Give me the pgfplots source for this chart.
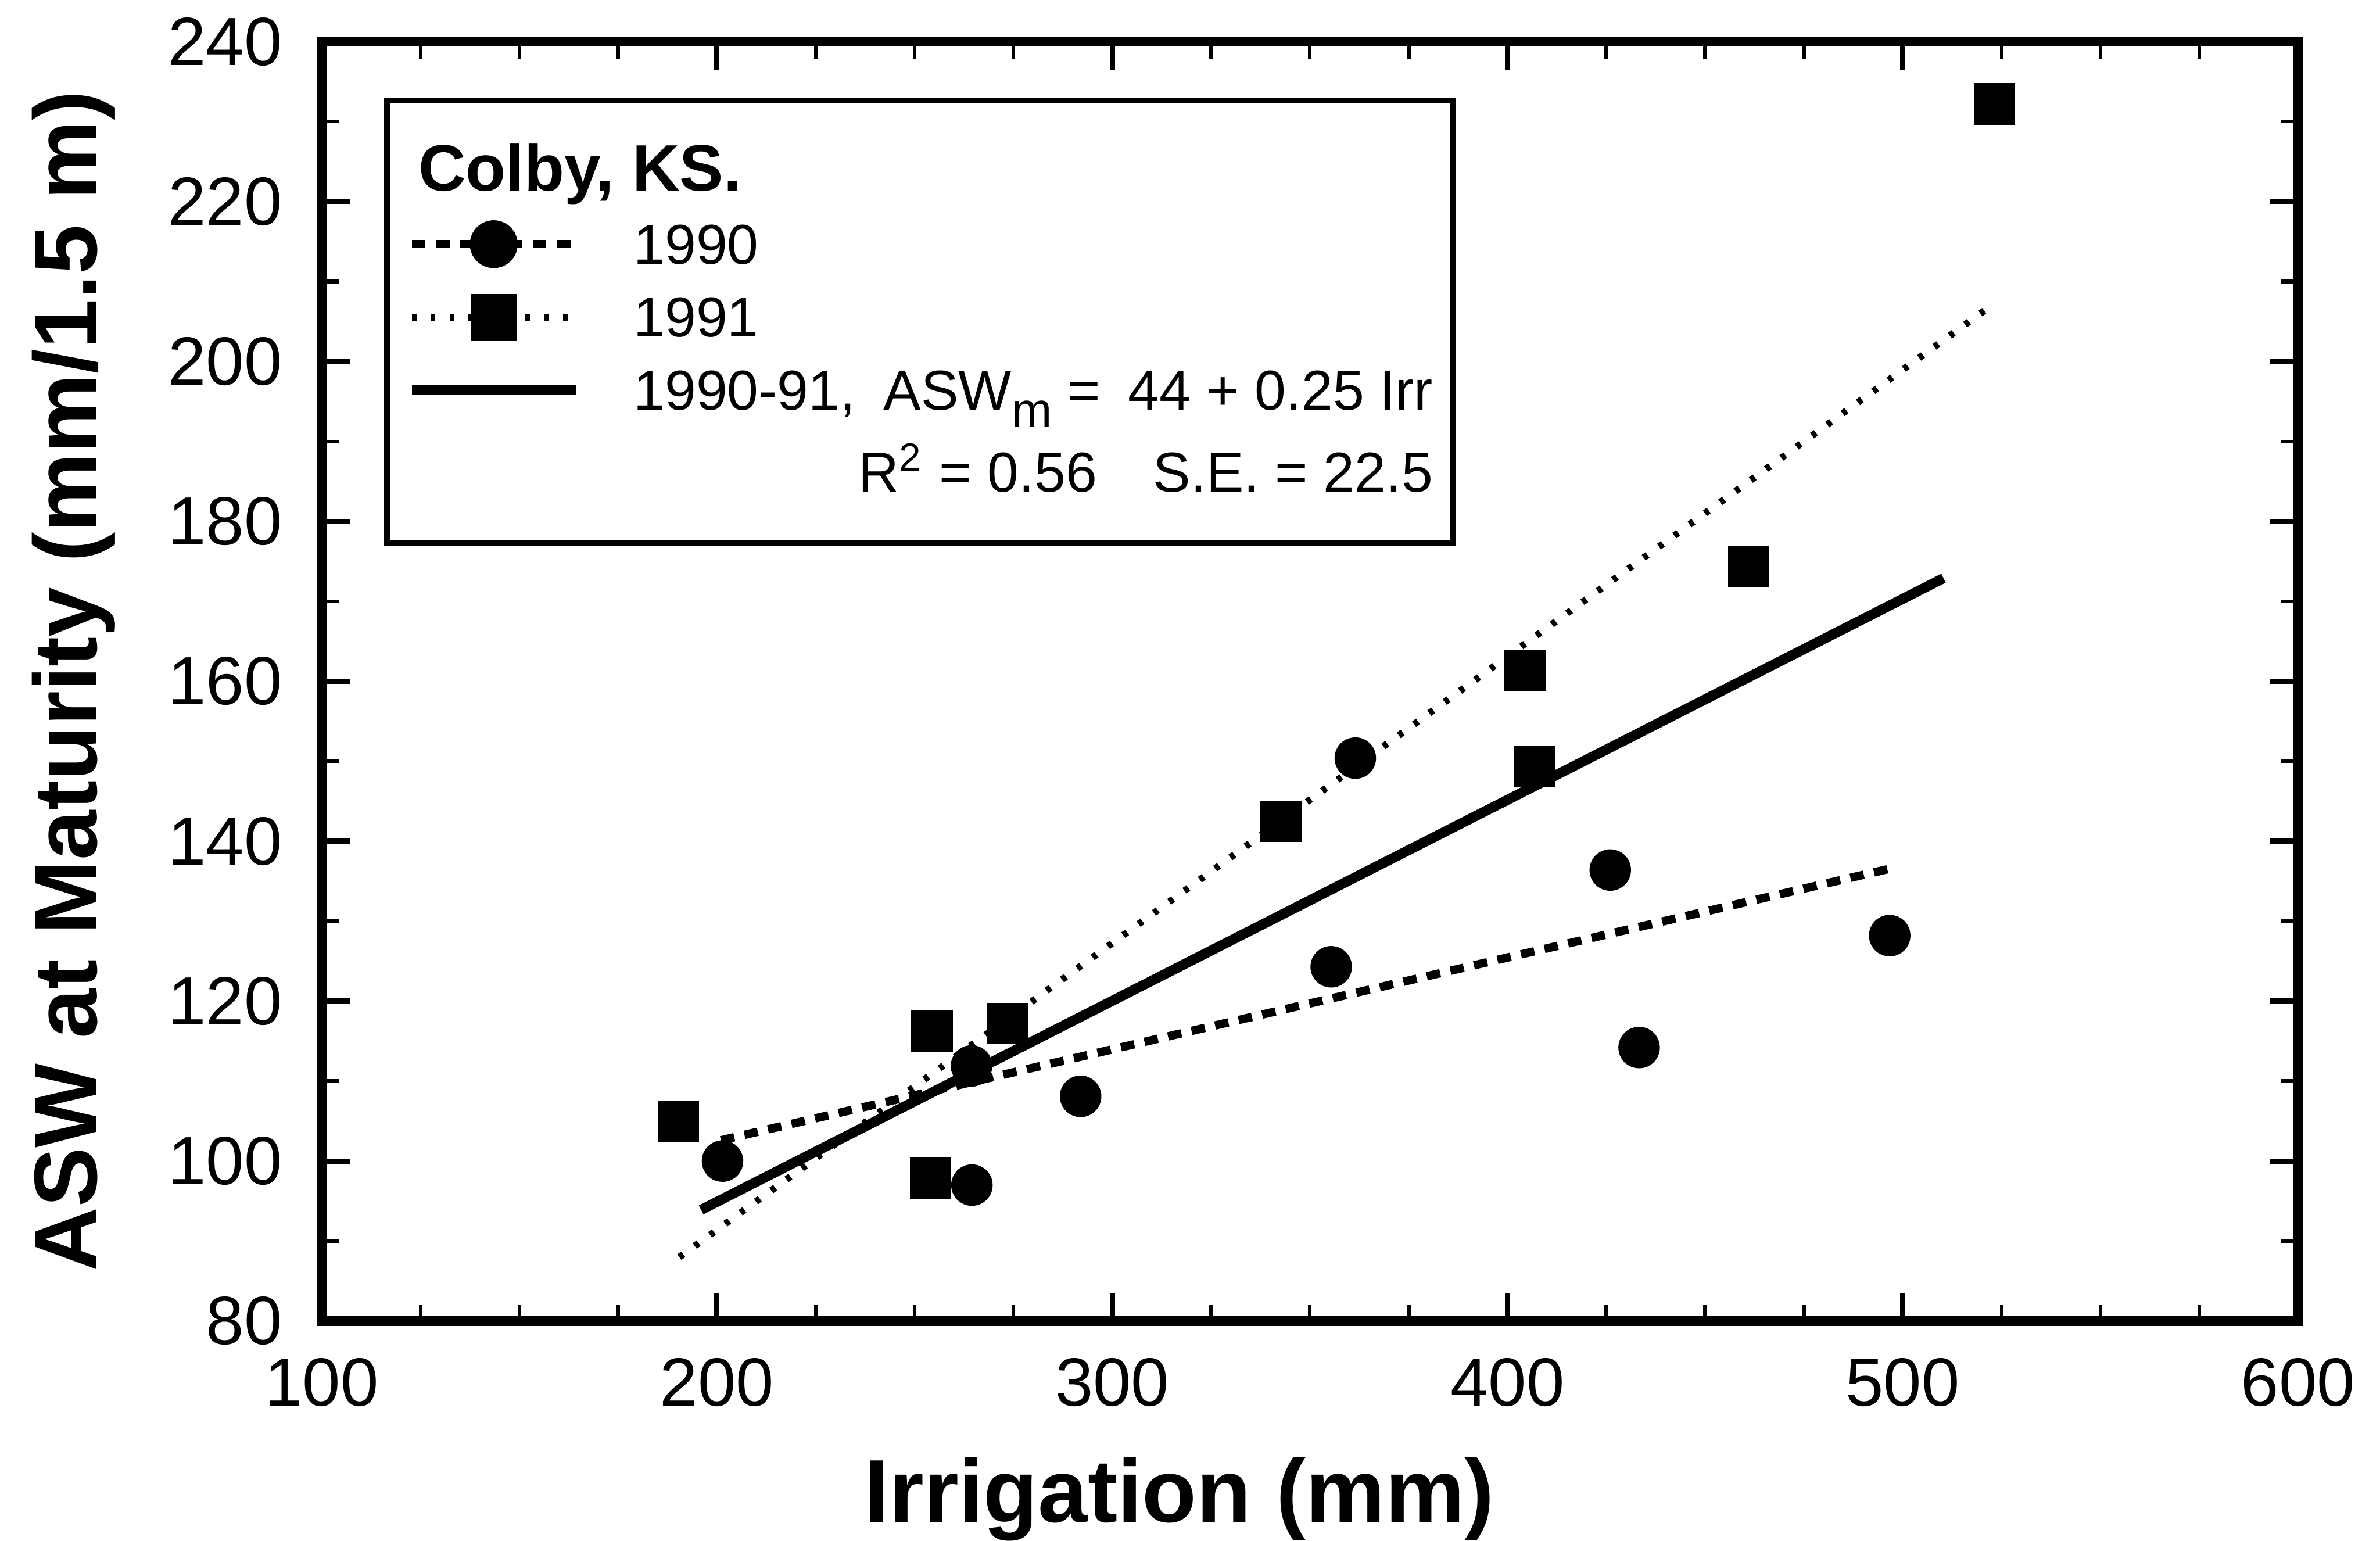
\documentclass[border=0pt]{standalone}
\usepackage{fontspec}
\setmainfont{Liberation Sans}
\usepackage{pgfplots}
\usepackage{pgfplotstable}
\pgfplotsset{compat=1.18}

% 1990 observations (circles)
\pgfplotstableread{
x y
201.4 100.0
264.4 111.9
264.5 97.0
292.0 108.1
355.4 124.3
361.5 150.4
426.0 136.4
433.3 114.2
496.7 128.2
}\obsA

% 1991 observations (squares)
\pgfplotstableread{
x y
190.2 104.9
254.0 97.9
254.4 116.3
273.6 117.2
342.7 142.5
404.5 161.4
406.8 149.3
461.0 174.3
523.2 232.2
}\obsB

% fitted lines (end points)
\pgfplotstableread{
x y
201.0 102.6
497.0 136.6
}\fitA
\pgfplotstableread{
x y
190.5 88.0
523.0 207.2
}\fitB
\pgfplotstableread{
x y
196.0 93.9
510.3 172.9
}\fitC

\newcommand\eqtext{1990-91,\enspace ASW\raisebox{-3.2pt}{\fontsize{9.2}{10}\selectfont m} =\enspace 44 + 0.25 Irr}

\begin{document}
\begin{tikzpicture}
\begin{axis}[
    scale only axis,
    width=376.3pt,
    height=243.6pt,
    xmin=100, xmax=600,
    ymin=80, ymax=240,
    xtick={100,200,...,600},
    ytick={80,100,...,240},
    minor x tick num=3,
    minor y tick num=1,
    tick align=inside,
    major tick length=5.3pt,
    minor tick length=3.2pt,
    major tick style={line width=1pt, black},
    minor tick style={line width=0.7pt, black},
    axis line style={line width=1.9pt},
    tick label style={font=\fontsize{13}{15}\selectfont},
    /pgf/number format/assume math mode=true,
    xticklabel style={yshift=-3.5pt},
    yticklabel style={xshift=-4pt},
    label style={font=\fontsize{17}{20}\selectfont\bfseries, inner sep=0pt},
    xlabel={Irrigation (mm)},
    ylabel={ASW at Maturity (mm/1.5 m)},
    xlabel style={at={(axis description cs:0.434,-0.157)}, anchor=base},
    ylabel style={at={(axis description cs:-0.1137,0.5)}, anchor=base},
    clip=false,
    legend cell align=left,
    legend image code/.code={\draw[mark repeat=2,mark phase=2] plot coordinates {(0pt,0pt) (15.6pt,0pt) (31.2pt,0pt)};},
    legend style={
        at={(axis description cs:0.0315,0.956)}, anchor=north west,
        draw=black, line width=1.1pt, fill=white,
        inner xsep=3.8pt, inner ysep=9.65pt,
        row sep=6.4pt, column sep=10.1pt,
        font=\fontsize{10.7}{12}\selectfont,
        nodes={inner sep=0pt, text height=7.5pt, text depth=0pt}
    }
]
\addlegendimage{empty legend}
\addlegendentry{\hspace*{-41pt}\fontsize{12.5}{14}\selectfont\bfseries Colby, KS.}
\addlegendimage{black, line width=1.6pt, dash pattern=on 2.6pt off 2pt, mark=*, mark size=3.75pt, mark options={solid}}
\addlegendentry{1990}
\addlegendimage{black, line width=1.3pt, dash pattern=on 0.9pt off 2.7pt, mark=square*, mark size=3.75pt, mark options={solid}}
\addlegendentry{1991}
\addlegendimage{black, line width=1.9pt}
\addlegendentry{\eqtext}
\addlegendimage{empty legend}
\addlegendentry[text height=9.2pt]{\hphantom{\eqtext}\llap{R\textsuperscript{2} = 0.56\quad S.E. = 22.5}}

\addplot[black, line width=1.6pt, dash pattern=on 2.6pt off 2pt, forget plot] table {\fitA};
\addplot[black, line width=1.3pt, dash pattern=on 0.9pt off 2.7pt, forget plot] table {\fitB};
\addplot[black, line width=1.9pt, forget plot] table {\fitC};
\addplot[only marks, mark=*, mark size=3.75pt, black, forget plot] table {\obsA};
\addplot[only marks, mark=square*, mark size=3.75pt, black, forget plot] table {\obsB};

\path (rel axis cs:-0.1628,-0.1708) rectangle (rel axis cs:1.0415,1.032);
\end{axis}
\end{tikzpicture}
\end{document}
